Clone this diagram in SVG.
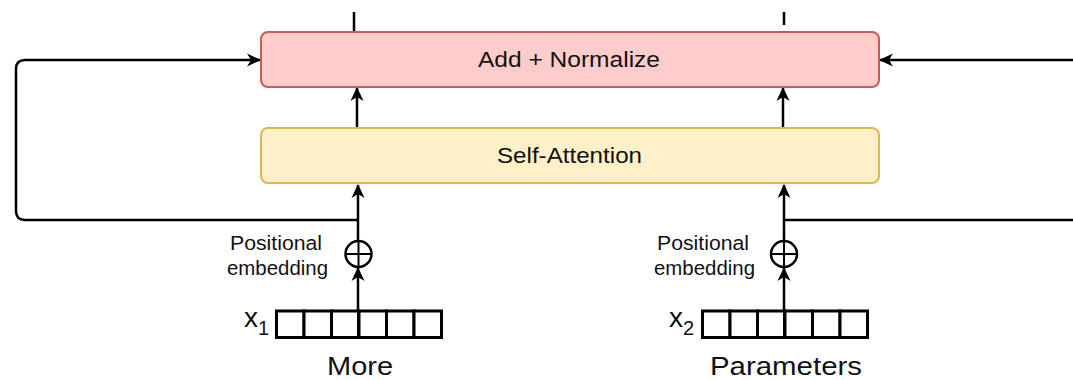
<svg xmlns="http://www.w3.org/2000/svg" width="1073" height="380" viewBox="0 0 1073 380">
  <style>
    .wire { fill: none; stroke: #000; stroke-width: 2.5; }
    .cell { fill: #fff; stroke: #000; stroke-width: 3; }
    .plus { fill: #fff; stroke: #000; stroke-width: 2.5; }
    .lbl { font-family: "Liberation Sans", Arial, sans-serif; fill: #111; }
  </style>
  <defs>
    <marker id="arrow" viewBox="0 0 14 14" refX="13" refY="7" markerWidth="14" markerHeight="14" markerUnits="userSpaceOnUse" orient="auto">
      <path d="M0,0.5 L14,7 L0,13.5 L4,7 Z" fill="#000"/>
    </marker>
  </defs>

  <!-- connectors -->
  <g id="connectors">
    <line class="wire" x1="354" y1="12" x2="354" y2="32"/>
    <line class="wire" x1="784" y1="12" x2="784" y2="25"/>
    <line class="wire" x1="357" y1="128" x2="357" y2="88" marker-end="url(#arrow)"/>
    <line class="wire" x1="783" y1="128" x2="783" y2="88" marker-end="url(#arrow)"/>
    <line class="wire" x1="358" y1="241" x2="358" y2="185" marker-end="url(#arrow)"/>
    <line class="wire" x1="784" y1="241" x2="784" y2="185" marker-end="url(#arrow)"/>
    <path class="wire" d="M358,220 H25 Q16,220 16,211 V69 Q16,60 25,60 H260" marker-end="url(#arrow)"/>
    <path class="wire" d="M784,220 H1073"/>
    <line class="wire" x1="1073" y1="60" x2="880" y2="60" marker-end="url(#arrow)"/>
    <line class="wire" x1="358" y1="324" x2="358" y2="268" marker-end="url(#arrow)"/>
    <line class="wire" x1="784" y1="324" x2="784" y2="268" marker-end="url(#arrow)"/>
  </g>

  <g id="add-normalize">
    <rect x="261" y="32" width="618" height="55" rx="7" fill="#ffcccc" stroke="#cc5a55" stroke-width="2"/>
    <text class="lbl" x="478" y="67" font-size="22" textLength="182" lengthAdjust="spacingAndGlyphs">Add + Normalize</text>
  </g>

  <g id="self-attention">
    <rect x="261" y="128" width="618" height="55" rx="7" fill="#fff0c8" stroke="#e0b84a" stroke-width="2"/>
    <text class="lbl" x="497" y="163" font-size="22" textLength="145" lengthAdjust="spacingAndGlyphs">Self-Attention</text>
  </g>

  <g id="pos-embed-1">
    <circle class="plus" cx="358.5" cy="254" r="13"/>
    <line x1="345.5" y1="254" x2="371.5" y2="254" stroke="#000" stroke-width="2"/>
    <line x1="358.5" y1="241" x2="358.5" y2="267" stroke="#000" stroke-width="2"/>
    <text class="lbl" x="230" y="250" font-size="20.5" textLength="92" lengthAdjust="spacingAndGlyphs">Positional</text>
    <text class="lbl" x="227" y="275" font-size="20.5" textLength="101" lengthAdjust="spacingAndGlyphs">embedding</text>
  </g>

  <g id="pos-embed-2">
    <circle class="plus" cx="784" cy="254" r="13"/>
    <line x1="771" y1="254" x2="797" y2="254" stroke="#000" stroke-width="2"/>
    <line x1="784" y1="241" x2="784" y2="267" stroke="#000" stroke-width="2"/>
    <text class="lbl" x="657" y="250" font-size="20.5" textLength="92" lengthAdjust="spacingAndGlyphs">Positional</text>
    <text class="lbl" x="654" y="275" font-size="20.5" textLength="101" lengthAdjust="spacingAndGlyphs">embedding</text>
  </g>

  <g id="token-1">
    <rect class="cell" x="276.5" y="311" width="27.5" height="26.5"/>
    <rect class="cell" x="304" y="311" width="27.5" height="26.5"/>
    <rect class="cell" x="331.5" y="311" width="27.5" height="26.5"/>
    <rect class="cell" x="359" y="311" width="27.5" height="26.5"/>
    <rect class="cell" x="386.5" y="311" width="27.5" height="26.5"/>
    <rect class="cell" x="414" y="311" width="27.5" height="26.5"/>
    <line x1="358" y1="311" x2="358" y2="337" stroke="#000" stroke-width="2"/>
    <text class="lbl" x="244" y="327" font-size="28">x<tspan font-size="20" dy="8">1</tspan></text>
    <text class="lbl" x="327" y="375" font-size="26" textLength="66" lengthAdjust="spacingAndGlyphs">More</text>
  </g>

  <g id="token-2">
    <rect class="cell" x="702.5" y="311" width="27.5" height="26.5"/>
    <rect class="cell" x="730" y="311" width="27.5" height="26.5"/>
    <rect class="cell" x="757.5" y="311" width="27.5" height="26.5"/>
    <rect class="cell" x="785" y="311" width="27.5" height="26.5"/>
    <rect class="cell" x="812.5" y="311" width="27.5" height="26.5"/>
    <rect class="cell" x="840" y="311" width="27.5" height="26.5"/>
    <line x1="784" y1="311" x2="784" y2="337" stroke="#000" stroke-width="2"/>
    <text class="lbl" x="669" y="327" font-size="28">x<tspan font-size="20" dy="8">2</tspan></text>
    <text class="lbl" x="710" y="375" font-size="26" textLength="152" lengthAdjust="spacingAndGlyphs">Parameters</text>
  </g>
</svg>
